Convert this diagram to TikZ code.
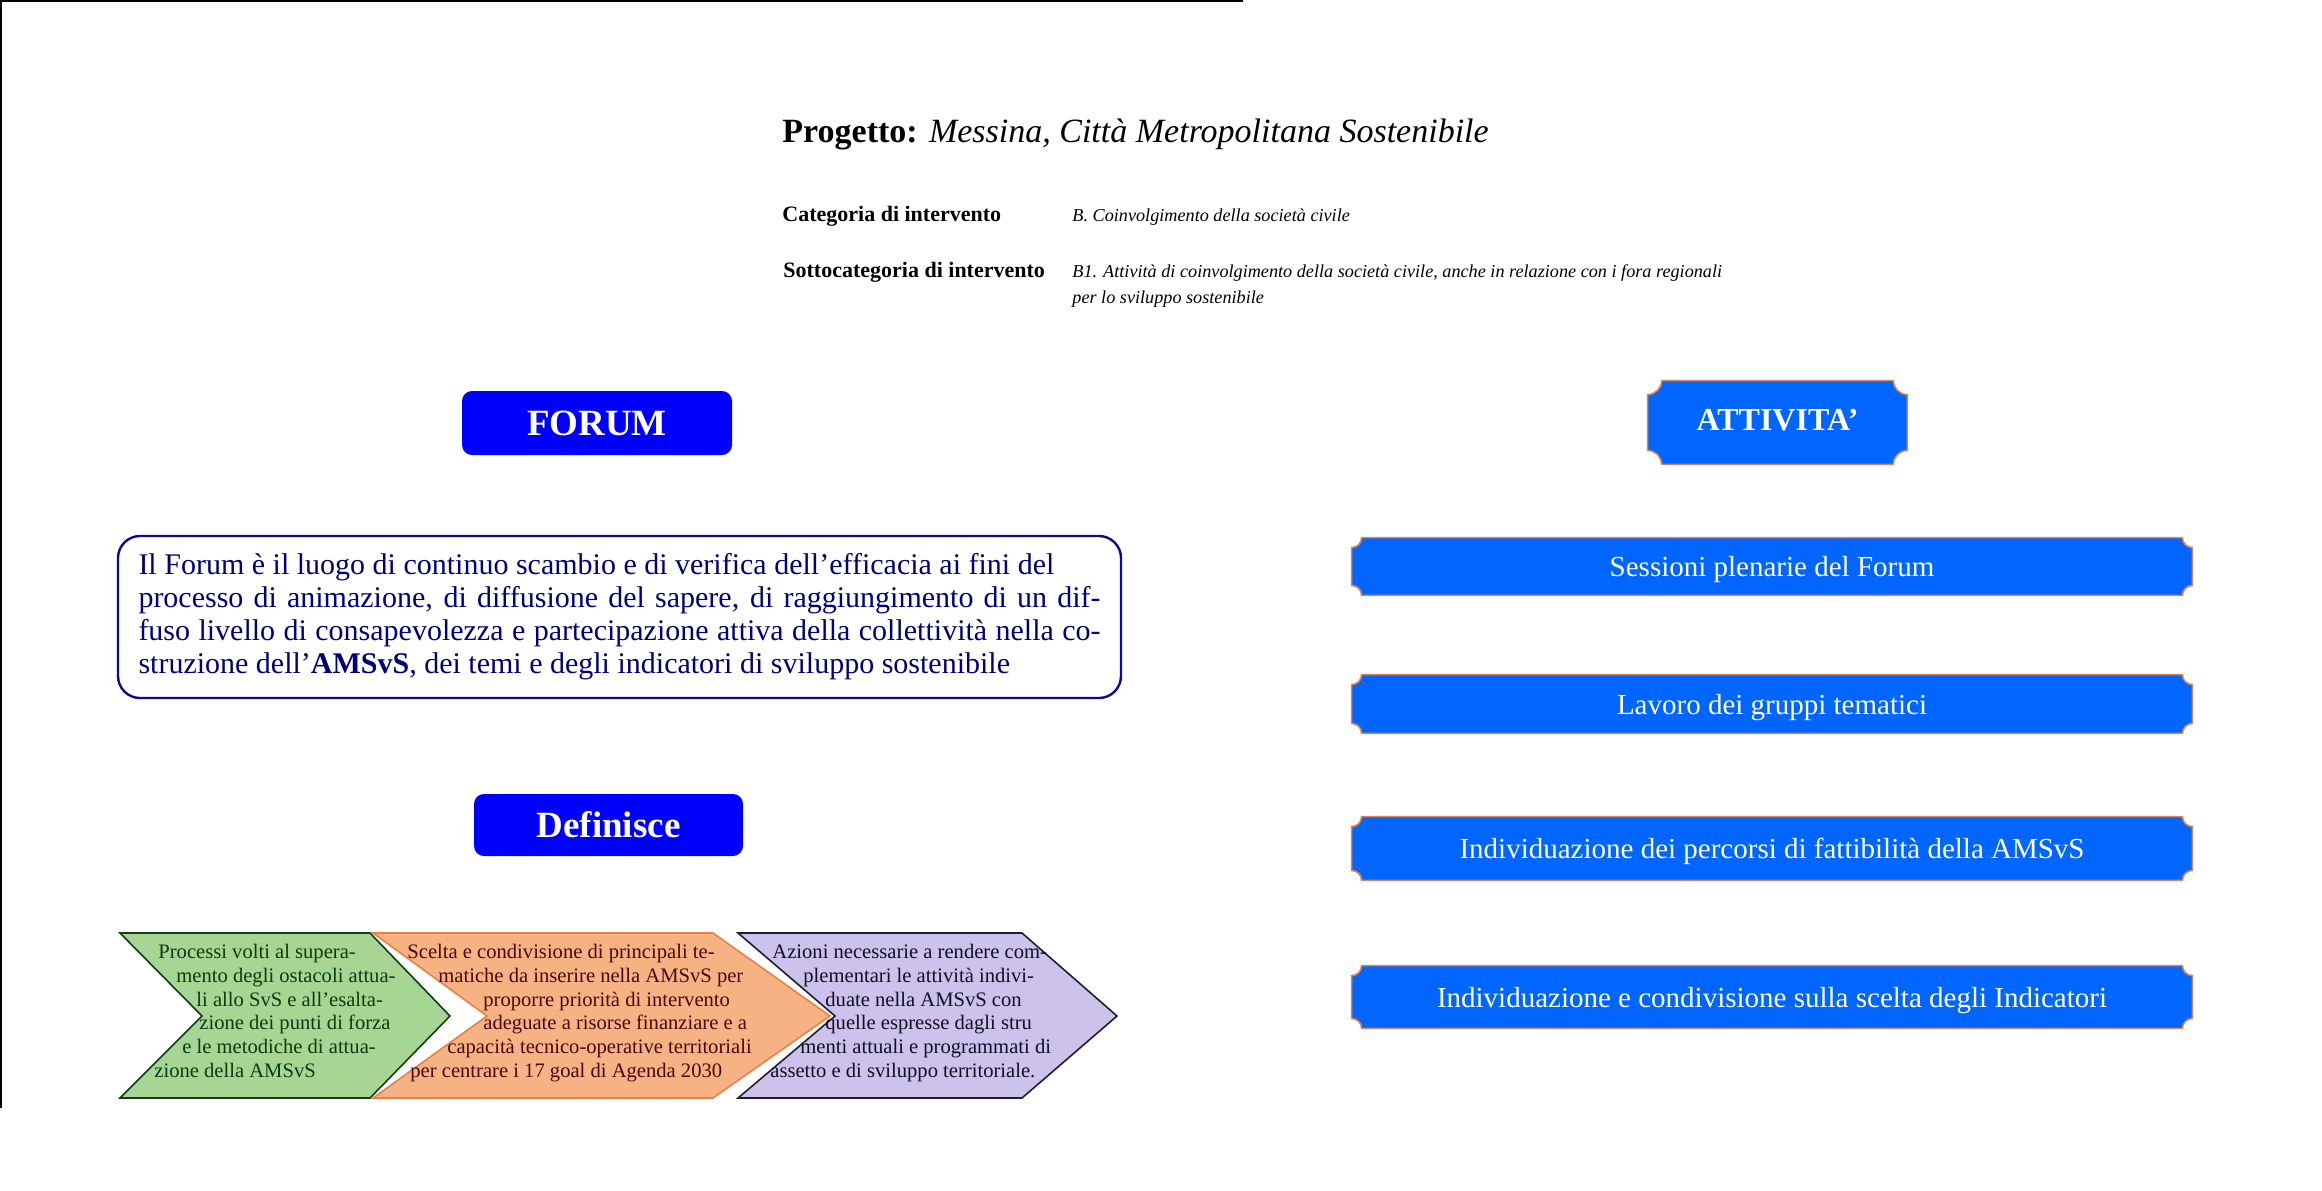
\documentclass[tikz,border=0pt]{standalone}
\usepackage{fontspec}
\setmainfont{Liberation Serif}
\usetikzlibrary{calc,backgrounds}
\definecolor{fblue}{RGB}{0,0,255}
\definecolor{pblue}{RGB}{0,102,255}
\definecolor{pborder}{RGB}{222,130,80}
\definecolor{navy}{RGB}{0,0,120}
\definecolor{navyline}{RGB}{10,10,150}
\definecolor{gfill}{RGB}{166,213,148}
\definecolor{gline}{RGB}{20,60,20}
\definecolor{gtext}{RGB}{10,60,15}
\definecolor{ofill}{RGB}{246,178,130}
\definecolor{oline}{RGB}{230,130,70}
\definecolor{otext}{RGB}{70,10,10}
\definecolor{vfill}{RGB}{205,194,235}
\definecolor{vline}{RGB}{30,30,50}
\definecolor{vtext}{RGB}{15,15,35}
\tikzset{
  hdr/.style={inner sep=0pt, anchor=base west},
  bluebtn/.style={fill=fblue, rounded corners=5pt, text=white, inner sep=0pt,
    font=\bfseries\fontsize{18.5}{22}\selectfont},
  descbox/.style={draw=navyline, line width=1.2pt, rounded corners=11pt, fill=white,
    text=navy, align=justify, text width=481pt, inner xsep=10.25pt, inner ysep=0pt,
    minimum height=81pt, font=\fontsize{15}{16.5}\selectfont},
  plaquenode/.style={inner sep=0pt, text=white, minimum width=420pt, text depth=0pt,
    font=\fontsize{14.5}{17}\selectfont},
  plaq/.style={fill=pblue, draw=pborder, line width=0.8pt},
  chevline/.style={inner sep=0pt, anchor=base west, font=\fontsize{10.3}{11.85}\selectfont},
  gchev/.style={fill=gfill, draw=gline, line width=0.8pt},
  ochev/.style={fill=ofill, draw=oline, line width=0.8pt},
  vchev/.style={fill=vfill, draw=vline, line width=0.8pt},
  frame/.style={draw=black, line width=1pt}
}
\newcommand\plaqueshape[2]{%
  \path[plaq] let \p1=(#1.north west), \p2=(#1.south east) in
  (\x1+#2pt,\y1) -- (\x2-#2pt,\y1)
  .. controls (\x2-#2pt,\y1-0.55*#2pt) and (\x2-0.55*#2pt,\y1-#2pt) .. (\x2,\y1-#2pt)
  -- (\x2,\y2+#2pt)
  .. controls (\x2-0.55*#2pt,\y2+#2pt) and (\x2-#2pt,\y2+0.55*#2pt) .. (\x2-#2pt,\y2)
  -- (\x1+#2pt,\y2)
  .. controls (\x1+#2pt,\y2+0.55*#2pt) and (\x1+0.55*#2pt,\y2+#2pt) .. (\x1,\y2+#2pt)
  -- (\x1,\y1-#2pt)
  .. controls (\x1+0.55*#2pt,\y1-#2pt) and (\x1+#2pt,\y1-0.55*#2pt) .. cycle;}
\begin{document}
\begin{tikzpicture}[x=0.5pt,y=-0.5pt]
\path[use as bounding box] (0,0) rectangle (2322,1190);
% page frame
\draw[frame] (0,1) -- (1243,1);
\draw[frame] (1,0) -- (1,1108);
% header
\node[hdr, font=\fontsize{17}{20}\selectfont] (title) at (782,142)
  {\textbf{Progetto:} \textit{Messina, Città Metropolitana Sostenibile}};
\node[hdr, font=\bfseries\fontsize{11}{13}\selectfont] (catlab) at (782,221) {Categoria di intervento};
\node[hdr, font=\itshape\fontsize{9.1}{13}\selectfont] (catval) at (1072,221) {B. Coinvolgimento della società civile};
\node[hdr, font=\bfseries\fontsize{11}{13}\selectfont] (sublab) at (783,277) {Sottocategoria di intervento};
\node[hdr, font=\itshape\fontsize{9.1}{13}\selectfont] (subval1) at (1072,277) {B1. Attività di coinvolgimento della società civile, anche in relazione con i fora regionali};
\node[hdr, font=\itshape\fontsize{9.1}{13}\selectfont] (subval2) at (1072,303) {per lo sviluppo sostenibile};
% left column
\node[bluebtn, minimum width=135pt, minimum height=32pt] (forum) at (597,423) {FORUM};
\node[descbox, minimum width=501.5pt] (desc) at (619.5,617)
  {\parindent=0pt Il Forum è il luogo di continuo scambio e di verifica dell’efficacia ai fini del\\
   processo di animazione, di diffusione del sapere, di raggiungimento di un dif-\linebreak
   fuso livello di consapevolezza e partecipazione attiva della collettività nella co-\linebreak
   struzione dell’\textbf{AMSvS}, dei temi e degli indicatori di sviluppo sostenibile};
\node[bluebtn, minimum width=134.5pt, minimum height=31pt] (definisce) at (608.5,825) {Definisce};
% chevrons
\filldraw[gchev] (120,933) -- (370,933) -- (450,1016) -- (370,1098) -- (120,1098) -- (202,1016) -- cycle;
\filldraw[ochev] (373,933) -- (713,933) -- (830,1016) -- (713,1098) -- (373,1098) -- (487,1016) -- cycle;
\filldraw[vchev] (738,933) -- (1022,933) -- (1117,1016) -- (1022,1098) -- (738,1098) -- (835,1016) -- cycle;
\begin{scope}[every node/.style={chevline, text=gtext}]
\node (g1) at (158,958) {Processi volti al supera-};
\node (g2) at (176,982) {mento degli ostacoli attua-};
\node (g3) at (196,1006) {li allo SvS e all’esalta-};
\node (g4) at (199,1029) {zione dei punti di forza};
\node (g5) at (182,1053) {e le metodiche di attua-};
\node (g6) at (154,1077) {zione della AMSvS};
\end{scope}
\begin{scope}[every node/.style={chevline, text=otext}]
\node (o1) at (407,958) {Scelta e condivisione di principali te-};
\node (o2) at (438,982) {matiche da inserire nella AMSvS per};
\node (o3) at (483,1006) {proporre priorità di intervento};
\node (o4) at (483,1029) {adeguate a risorse finanziare e a};
\node (o5) at (447,1053) {capacità tecnico-operative territoriali};
\node (o6) at (410,1077) {per centrare i 17 goal di Agenda 2030};
\end{scope}
\begin{scope}[every node/.style={chevline, text=vtext}]
\node (p1) at (772,958) {Azioni necessarie a rendere com-};
\node (p2) at (803,982) {plementari le attività indivi-};
\node (p3) at (825,1006) {duate nella AMSvS con};
\node (p4) at (825,1029) {quelle espresse dagli stru};
\node (p5) at (800,1053) {menti attuali e programmati di};
\node (p6) at (770,1077) {assetto e di sviluppo territoriale.};
\end{scope}
% right column
\node[plaquenode, minimum width=129.5pt, minimum height=41.5pt, text depth=3pt,
  font=\bfseries\fontsize{16}{19}\selectfont] (att) at (1777.5,422.5) {ATTIVITA’};
\node[plaquenode, minimum height=28.5pt] (s1) at (1772,566.5) {Sessioni plenarie del Forum};
\node[plaquenode, minimum height=29pt] (s2) at (1772,704) {Lavoro dei gruppi tematici};
\node[plaquenode, minimum height=31.5pt] (s3) at (1772,848.5) {Individuazione dei percorsi di fattibilità della AMSvS};
\node[plaquenode, minimum height=31pt] (s4) at (1772,997) {Individuazione e condivisione sulla scelta degli Indicatori};
\begin{scope}[on background layer]
\fill[white] (0,0) rectangle (2322,1190);
\plaqueshape{att}{7}
\plaqueshape{s1}{5}
\plaqueshape{s2}{5}
\plaqueshape{s3}{5}
\plaqueshape{s4}{5}
\end{scope}
\end{tikzpicture}
\end{document}
